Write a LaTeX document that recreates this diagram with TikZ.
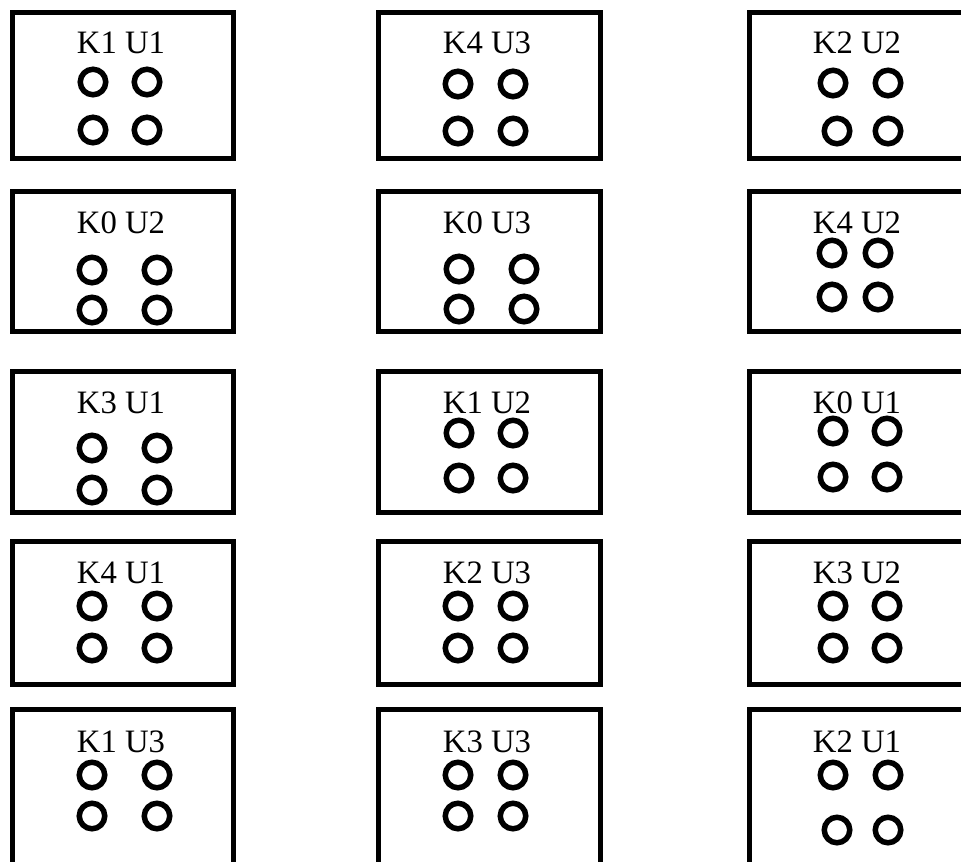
\documentclass[tikz,border=0pt]{standalone}
\usepackage{fontspec}
\setmainfont{Liberation Serif}
\usepackage{tikz}
\usetikzlibrary{positioning}

\begin{document}
\begin{tikzpicture}[
      x=0.03cm,y=-0.03cm,
      frame/.style={draw,line width=0.15cm},
      lab/.style={anchor=base,inner sep=0pt,font=\fontsize{27.9}{30}\selectfont},
      hole/.style={circle,draw,line width=0.165cm,minimum size=0.765cm,inner sep=0pt}
      ]

      \clip (0,0) rectangle (961,861);
      \path[use as bounding box] (0,0) rectangle (961,861);

      % first column
      \draw[frame] (12,12) rectangle (233,158);
      \node[lab] (k1u1) at (121,53) {K1 U1};
      \node[hole] (a1) at (93,82) {}; \node[hole] (a2) at (147,82) {};
      \node[hole] (a3) at (93,130) {}; \node[hole] (a4) at (147,130) {};

      \draw[frame] (12,191) rectangle (233,331);
      \node[lab] (k0u2) at (121,233) {K0 U2};
      \node[hole] (b1) at (92,270) {}; \node[hole] (b2) at (157,270) {};
      \node[hole] (b3) at (92,310) {}; \node[hole] (b4) at (157,310) {};

      \draw[frame] (12,371) rectangle (233,512);
      \node[lab] (k3u1) at (121,413) {K3 U1};
      \node[hole] (c1) at (92,448) {}; \node[hole] (c2) at (157,448) {};
      \node[hole] (c3) at (92,490) {}; \node[hole] (c4) at (157,490) {};

      \draw[frame] (12,541) rectangle (233,684);
      \node[lab] (k4u1) at (121,583) {K4 U1};
      \node[hole] (d1) at (92,606) {}; \node[hole] (d2) at (157,606) {};
      \node[hole] (d3) at (92,648) {}; \node[hole] (d4) at (157,648) {};

      \draw[frame] (12,709) rectangle (233,900);
      \node[lab] (k1u3) at (121,752) {K1 U3};
      \node[hole] (e1) at (92,775) {}; \node[hole] (e2) at (157,775) {};
      \node[hole] (e3) at (92,816) {}; \node[hole] (e4) at (157,816) {};

      % second column
      \draw[frame] (378,12) rectangle (600,158);
      \node[lab] (k4u3) at (487,53) {K4 U3};
      \node[hole] (f1) at (458,84) {}; \node[hole] (f2) at (513,84) {};
      \node[hole] (f3) at (458,131) {}; \node[hole] (f4) at (513,131) {};

      \draw[frame] (378,191) rectangle (600,331);
      \node[lab] (k0u3) at (487,233) {K0 U3};
      \node[hole] (g1) at (459,269) {}; \node[hole] (g2) at (524,269) {};
      \node[hole] (g3) at (459,309) {}; \node[hole] (g4) at (524,309) {};

      \draw[frame] (378,371) rectangle (600,512);
      \node[lab] (k1u2) at (487,413) {K1 U2};
      \node[hole] (h1) at (459,433) {}; \node[hole] (h2) at (513,433) {};
      \node[hole] (h3) at (459,478) {}; \node[hole] (h4) at (513,478) {};

      \draw[frame] (378,541) rectangle (600,684);
      \node[lab] (k2u3) at (487,583) {K2 U3};
      \node[hole] (i1) at (458,606) {}; \node[hole] (i2) at (513,606) {};
      \node[hole] (i3) at (458,648) {}; \node[hole] (i4) at (513,648) {};

      \draw[frame] (378,709) rectangle (600,900);
      \node[lab] (k3u3) at (487,752) {K3 U3};
      \node[hole] (j1) at (458,775) {}; \node[hole] (j2) at (513,775) {};
      \node[hole] (j3) at (458,816) {}; \node[hole] (j4) at (513,816) {};

      % third column (cut at the right edge)
      \draw[frame] (749,12) rectangle (985,158);
      \node[lab] (k2u2) at (857,53) {K2 U2};
      \node[hole] (m1) at (833,83) {}; \node[hole] (m2) at (888,83) {};
      \node[hole] (m3) at (837,131) {}; \node[hole] (m4) at (888,131) {};

      \draw[frame] (749,191) rectangle (985,331);
      \node[lab] (k4u2) at (857,233) {K4 U2};
      \node[hole] (n1) at (832,253) {}; \node[hole] (n2) at (878,253) {};
      \node[hole] (n3) at (832,297) {}; \node[hole] (n4) at (878,297) {};

      \draw[frame] (749,371) rectangle (985,512);
      \node[lab] (k0u1) at (857,413) {K0 U1};
      \node[hole] (o1) at (833,431) {}; \node[hole] (o2) at (887,431) {};
      \node[hole] (o3) at (833,477) {}; \node[hole] (o4) at (887,477) {};

      \draw[frame] (749,541) rectangle (985,684);
      \node[lab] (k3u2) at (857,583) {K3 U2};
      \node[hole] (p1) at (833,606) {}; \node[hole] (p2) at (887,606) {};
      \node[hole] (p3) at (833,648) {}; \node[hole] (p4) at (887,648) {};

      \draw[frame] (749,709) rectangle (985,900);
      \node[lab] (k2u1) at (857,752) {K2 U1};
      \node[hole] (q1) at (833,775) {}; \node[hole] (q2) at (888,775) {};
      \node[hole] (q3) at (837,830) {}; \node[hole] (q4) at (888,830) {};

    \end{tikzpicture}
\end{document}
